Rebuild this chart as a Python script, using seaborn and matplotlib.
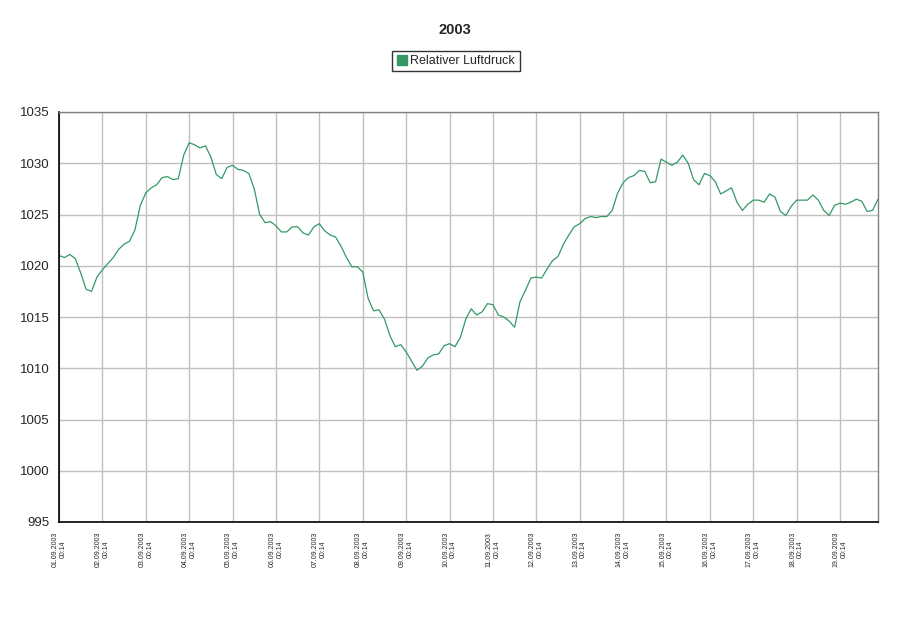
import pandas as pd
import numpy as np
import matplotlib
matplotlib.use("Agg")
import matplotlib.pyplot as plt
from matplotlib.lines import Line2D
import seaborn as sns

# Relativer Luftdruck, one reading every 3 hours from 01.09.2003 00:14
day01 = [1021.0, 1020.8, 1021.1, 1020.7, 1019.3, 1017.7, 1017.5, 1018.9]
day02 = [1019.6, 1020.2, 1020.8, 1021.6, 1022.1, 1022.4, 1023.5, 1025.9]
day03 = [1027.1, 1027.6, 1027.9, 1028.6, 1028.7, 1028.4, 1028.5, 1030.8]
day04 = [1032.0, 1031.8, 1031.5, 1031.7, 1030.6, 1028.9, 1028.5, 1029.6]
day05 = [1029.8, 1029.4, 1029.3, 1029.0, 1027.5, 1025.0, 1024.2, 1024.3]
day06 = [1023.9, 1023.3, 1023.3, 1023.8, 1023.8, 1023.2, 1023.0, 1023.8]
day07 = [1024.1, 1023.4, 1023.0, 1022.8, 1021.9, 1020.8, 1019.9, 1019.9]
day08 = [1019.4, 1016.8, 1015.6, 1015.7, 1014.8, 1013.2, 1012.1, 1012.3]
day09 = [1011.6, 1010.7, 1009.8, 1010.2, 1011.0, 1011.3, 1011.4, 1012.2]
day10 = [1012.4, 1012.1, 1013.0, 1014.8, 1015.8, 1015.2, 1015.5, 1016.3]
day11 = [1016.2, 1015.2, 1015.0, 1014.6, 1014.0, 1016.5, 1017.6, 1018.8]
day12 = [1018.9, 1018.8, 1019.7, 1020.5, 1020.9, 1022.1, 1023.0, 1023.8]
day13 = [1024.1, 1024.6, 1024.8, 1024.7, 1024.8, 1024.8, 1025.4, 1027.1]
day14 = [1028.1, 1028.6, 1028.8, 1029.3, 1029.2, 1028.1, 1028.2, 1030.4]
day15 = [1030.1, 1029.8, 1030.1, 1030.8, 1030.0, 1028.4, 1027.9, 1029.0]
day16 = [1028.8, 1028.2, 1027.0, 1027.3, 1027.6, 1026.2, 1025.4, 1026.0]
day17 = [1026.4, 1026.4, 1026.2, 1027.0, 1026.7, 1025.3, 1024.9, 1025.8]
day18 = [1026.4, 1026.4, 1026.4, 1026.9, 1026.4, 1025.4, 1024.9, 1025.9]
day19 = [1026.1, 1026.0, 1026.2, 1026.5, 1026.3, 1025.3, 1025.4, 1026.5]

druck = (day01 + day02 + day03 + day04 + day05 + day06 + day07 + day08 + day09 + day10
         + day11 + day12 + day13 + day14 + day15 + day16 + day17 + day18 + day19)
zeit = pd.date_range("2003-09-01 00:14", periods=len(druck), freq="3h")
tage = pd.date_range("2003-09-01 00:14", periods=19, freq="D")
tag_labels = [t.strftime("%d.%m.%Y") + "\n" + t.strftime("%H:%M") for t in tage]
y_ticks = [995, 1000, 1005, 1010, 1015, 1020, 1025, 1030, 1035]

df = pd.DataFrame({"Zeit": zeit, "Relativer Luftdruck": druck})

sns.set_style("white")
plt.rcParams["font.family"] = ["Liberation Sans", "DejaVu Sans"]

farbe = "#339966"
fig = plt.figure(figsize=(9.09, 6.34), dpi=100)
ax = fig.add_axes([59 / 909, 1 - 522 / 634, 819 / 909, 410 / 634])

sns.lineplot(data=df, x="Zeit", y="Relativer Luftdruck", color=farbe, linewidth=0.9, ax=ax)

ax.set_xlim(zeit[0], zeit[-1])
ax.set_ylim(995, 1035)
ax.set_yticks(y_ticks)
ax.set_yticklabels([str(v) for v in y_ticks], fontsize=9.5)
ax.set_xticks(tage)
ax.set_xticklabels(tag_labels, rotation=90, fontsize=5, ha="center", va="top", multialignment="center")
ax.set_xlabel("")
ax.set_ylabel("")
ax.grid(True, color="#c0c0c0", linewidth=1.0)
ax.set_axisbelow(True)
ax.tick_params(axis="both", direction="out", length=5, width=1, color="black", pad=2)

for s in ["left", "bottom"]:
    ax.spines[s].set_color("black")
    ax.spines[s].set_linewidth(1.2)
for s in ["top", "right"]:
    ax.spines[s].set_color("#808080")
    ax.spines[s].set_linewidth(1.0)

fig.text(0.5, 1 - 30 / 634, "2003", ha="center", va="center", fontsize=10.5, fontweight="bold")

handle = Line2D([], [], marker="s", linestyle="none", markersize=7, color=farbe)
leg = fig.legend([handle], ["Relativer Luftdruck"], loc="center", bbox_to_anchor=(456 / 909, 1 - 61 / 634),
                 fontsize=9, frameon=True, fancybox=False, handlelength=0.8, handletextpad=0.3,
                 borderpad=0.35, borderaxespad=0)
leg.get_frame().set_edgecolor("black")
leg.get_frame().set_linewidth(1.0)

fig.savefig("out.png", dpi=100)
